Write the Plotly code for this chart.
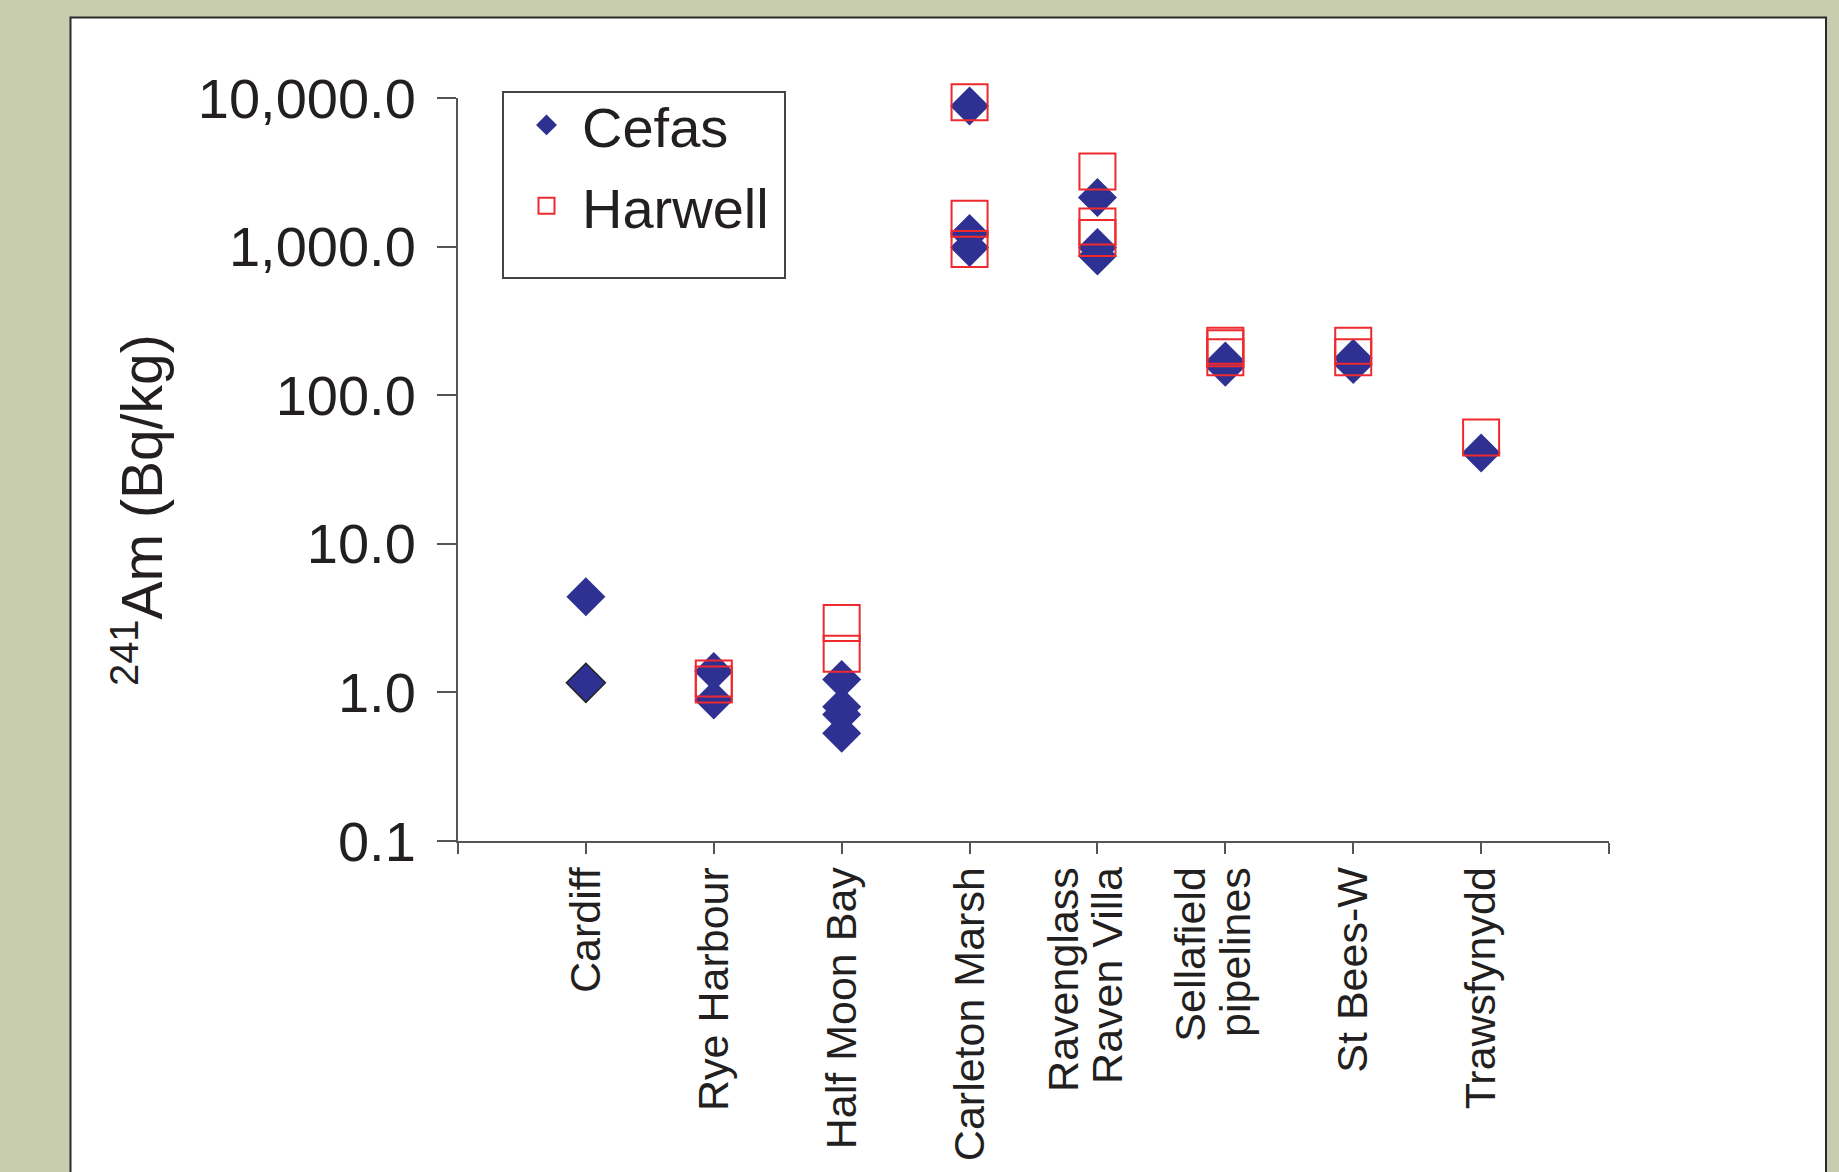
import plotly.graph_objects as go

# ---- data ----
sites = ["Cardiff", "Rye Harbour", "Half Moon Bay", "Carleton Marsh",
         "Ravenglass<br>Raven Villa", "Sellafield<br>pipelines", "St Bees-W", "Trawsfynydd"]
site_pos = [1, 2, 3, 4, 5, 6, 7, 8]

# Cefas measurements (site index 1..8, value Bq/kg)
cefas_site = [1, 1, 2, 2, 3, 3, 3, 3, 4, 4, 4, 5, 5, 5, 6, 6, 7, 7, 8]
cefas_val = [4.40, 1.16, 1.38, 0.89, 1.22, 0.80, 0.71, 0.53, 8840, 1224, 986,
             2138, 986, 865, 170, 154, 177, 161, 40.9]
cefas_outline = [0, 1.5, 0, 0, 0, 0, 0, 0, 0, 0, 0, 0, 0, 0, 0, 0, 0, 0, 0]

# Harwell measurements
harwell_site = [2, 2, 3, 3, 4, 4, 4, 5, 5, 5, 6, 6, 6, 7, 7, 8]
harwell_val = [1.24, 1.13, 2.93, 1.82, 9380, 1540, 963, 3200, 1365, 1142,
               215, 207, 180, 215, 180, 52.0]

y_tickvals = [0.1, 1, 10, 100, 1000, 10000]
y_ticktext = ["0.1", "1.0", "10.0", "100.0", "1,000.0", "10,000.0"]

FONT = "Liberation Sans, Arial, Helvetica, sans-serif"
TXT = "#231F20"
BG = "#C9CDB0"

# tick labels: two-line site names are laid out as two tight columns
lab_vals, lab_text = [], []
for p, s in zip(site_pos, sites):
    parts = s.split("<br>")
    if len(parts) == 1:
        lab_vals.append(p)
        lab_text.append(s)
    else:
        lab_vals += [p - 0.265, p + 0.08]
        lab_text += parts

fig = go.Figure()
fig.add_trace(go.Scatter(
    x=cefas_site, y=cefas_val, mode="markers", name="Cefas", legendgroup="c",
    cliponaxis=False,
    marker=dict(symbol="diamond", size=30, color="#2E3192",
                line=dict(color="#222222", width=cefas_outline)),
))
fig.add_trace(go.Scatter(
    x=harwell_site, y=harwell_val, mode="markers", name="Harwell", legendgroup="h",
    cliponaxis=False,
    marker=dict(symbol="square-open", size=36, color="#EE2A2F",
                line=dict(color="#EE2A2F", width=2)),
))

# geometry of plot area (px)
L, R, T, B = 458, 1609, 98, 841
W, H = 1839, 1172
pw, ph = R - L, B - T

def px_x(p):
    return (p - L) / pw

def px_y(p):
    return (B - p) / ph

fig.update_layout(
    width=W, height=H, autosize=False,
    margin=dict(l=L, r=W - R, t=T, b=H - B, pad=0),
    paper_bgcolor=BG,
    plot_bgcolor="rgba(0,0,0,0)",
    font=dict(family=FONT, color=TXT),
    showlegend=True,
    legend=dict(
        x=px_x(505), y=px_y(82), xanchor="left", yanchor="top",
        bgcolor="rgba(0,0,0,0)", borderwidth=0,
        font=dict(size=56, family=FONT, color=TXT),
        itemwidth=61, indentation=6, tracegroupgap=5,
    ),
    shapes=[
        dict(type="rect", xref="paper", yref="paper", layer="below",
             x0=px_x(70.5), x1=px_x(1826), y0=px_y(1240), y1=px_y(17.5),
             fillcolor="white", line=dict(color="#2A2A2A", width=2)),
        dict(type="rect", xref="paper", yref="paper", layer="above",
             x0=px_x(503), x1=px_x(785), y0=px_y(278), y1=px_y(92),
             fillcolor="rgba(0,0,0,0)", line=dict(color="#444444", width=2)),
    ],
    annotations=[dict(
        xref="paper", yref="paper", x=px_x(138), y=px_y(510),
        text="<sup>241</sup>Am (Bq/kg)", textangle=-90, showarrow=False,
        font=dict(size=57, family=FONT, color=TXT),
        xanchor="center", yanchor="middle",
    )],
)

fig.update_xaxes(
    range=[0, 9], tickmode="array",
    tickvals=lab_vals, ticktext=lab_text,
    tickangle=-90, ticks="",
    minor=dict(tickmode="array", tickvals=[0] + site_pos + [9], ticks="outside",
               ticklen=11, tickwidth=1.5, tickcolor="#555555", showgrid=False),
    showline=True, linecolor="#555555", linewidth=2,
    showgrid=False, zeroline=False, automargin=False,
    tickfont=dict(size=43, family=FONT, color=TXT),
    ticklabelstandoff=7,
)
fig.update_yaxes(
    type="log", range=[-1, 4], tickmode="array",
    tickvals=y_tickvals, ticktext=y_ticktext,
    ticks="outside", ticklen=19, tickwidth=1.5, tickcolor="#555555",
    showline=True, linecolor="#555555", linewidth=2,
    showgrid=False, zeroline=False, automargin=False,
    tickfont=dict(size=56, family=FONT, color=TXT),
    ticklabelstandoff=10,
)

fig.write_html(
    "out.html",
    config={"displayModeBar": False},
    post_script="document.body.style.margin='0';document.body.style.overflow='hidden';"
                "document.body.style.background='" + BG + "';",
)
